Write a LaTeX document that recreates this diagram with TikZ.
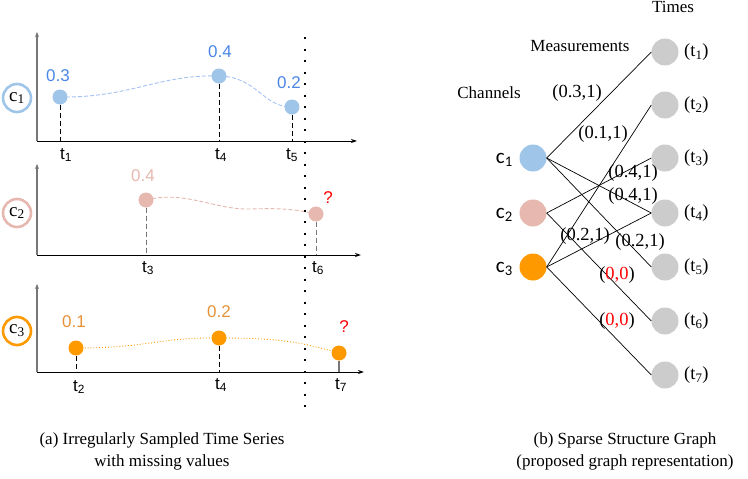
\documentclass[tikz,border=0pt]{standalone}
\usepackage{fontspec}
\setmainfont{Liberation Serif}
\newfontfamily\sansf{Liberation Sans}
\newfontfamily\carl{Carlito}
\usetikzlibrary{arrows.meta}
\definecolor{cblue}{HTML}{9FC5E8}
\definecolor{cbluetxt}{HTML}{4A86E8}
\definecolor{cbluecurve}{HTML}{A4C2F4}
\definecolor{cpink}{HTML}{E6B8AF}
\definecolor{corange}{HTML}{FF9900}
\definecolor{corangetxt}{HTML}{E69138}
\definecolor{cgray}{HTML}{CCCCCC}
\definecolor{axgray}{HTML}{777777}
\newcommand\mysb[1]{\textsubscript{#1}}
\tikzset{
  pt/.style={circle,inner sep=0pt,minimum size=15pt},
  ring/.style={circle,draw,line width=2.6pt,inner sep=0pt,minimum size=28pt,font=\fontsize{19}{19}\selectfont},
  val/.style={font=\sansf\fontsize{17}{17}\selectfont},
  tlab/.style={font=\sansf\fontsize{17}{17}\selectfont,inner sep=1pt},
  yax/.style={draw=axgray,line width=1.2pt,-{Stealth[length=5pt,width=4pt]}},
  xax/.style={draw=black,line width=1pt,-{Stealth[length=6pt,width=4pt]}},
  drop/.style={dashed,line width=1pt,dash pattern=on 5pt off 3pt},
  gnode/.style={circle,inner sep=0pt,minimum size=27pt},
  glab/.style={font=\fontsize{18.5}{18.5}\selectfont,inner sep=0pt},
  hdr/.style={font=\fontsize{17}{17}\selectfont,inner sep=0pt},
  clab/.style={font=\carl\fontsize{21}{21}\selectfont,anchor=east,inner sep=0pt},
  gedge/.style={draw=black,line width=0.7pt},
  captext/.style={font=\fontsize{17}{22}\selectfont,align=center}
}
\begin{document}
\begin{tikzpicture}[x=1pt,y=-1pt]
\useasboundingbox (0,0) rectangle (748,479);
% ---------- panel 1 ----------
\coordinate (o1) at (37,141);
\coordinate (ya1) at (37,32);
\coordinate (xa1) at (357,141);
\draw[yax] (o1) -- (ya1);
\draw[xax] (o1) -- (xa1);
\coordinate (p11) at (60,97);
\coordinate (p12) at (219,76);
\coordinate (p13) at (292,107);
\draw[cbluecurve,line width=0.9pt,dash pattern=on 4pt off 2pt]
  (p11) .. controls (130,98) and (160,74) .. (p12)
        .. controls (258,77) and (262,107) .. (p13);
\node[pt,fill=cblue] (a1) at (p11) {};
\node[pt,fill=cblue] (a2) at (p12) {};
\node[pt,fill=cblue] (a3) at (p13) {};
\coordinate (b1) at (60,141);
\coordinate (b2) at (219,141);
\coordinate (b3) at (292,141);
\draw[drop] (a1.south) -- (b1);
\draw[drop] (a2.south) -- (b2);
\draw[drop] (a3.south) -- (b3);
\node[val,text=cbluetxt] (v11) at (58,76) {0.3};
\node[val,text=cbluetxt] (v12) at (220,52) {0.4};
\node[val,text=cbluetxt] (v13) at (289,83) {0.2};
\node[tlab,anchor=north] (t11) at (66,147) {t\mysb{1}};
\node[tlab,anchor=north] (t12) at (221,147) {t\mysb{4}};
\node[tlab,anchor=north] (t13) at (292,147) {t\mysb{5}};
\node[ring,draw=cblue] (r1) at (17,98) {c\mysb{1}};
% ---------- panel 2 ----------
\coordinate (o2) at (37,255);
\coordinate (ya2) at (37,164);
\coordinate (xa2) at (361,255);
\draw[yax] (o2) -- (ya2);
\draw[xax] (o2) -- (xa2);
\coordinate (p21) at (146,200);
\coordinate (p22) at (316,214);
\draw[cpink,line width=0.9pt,dash pattern=on 4pt off 2pt]
  (p21) .. controls (185,190) and (215,210) .. (250,209)
        .. controls (280,208) and (295,209) .. (p22);
\node[pt,fill=cpink] (a4) at (p21) {};
\node[pt,fill=cpink] (a5) at (p22) {};
\coordinate (b4) at (146,255);
\coordinate (b5) at (316,255);
\draw[drop,axgray] (a4.south) -- (b4);
\draw[drop,axgray] (a5.south) -- (b5);
\node[val,text=cpink] (v21) at (143,176) {0.4};
\node[val,text=red] (v22) at (328,198) {?};
\node[tlab,anchor=north] (t21) at (148,260) {t\mysb{3}};
\node[tlab,anchor=north] (t22) at (318,260) {t\mysb{6}};
\node[ring,draw=cpink] (r2) at (17,213) {c\mysb{2}};
% ---------- panel 3 ----------
\coordinate (o3) at (37,372);
\coordinate (ya3) at (37,284);
\coordinate (xa3) at (364,372);
\draw[yax] (o3) -- (ya3);
\draw[xax] (o3) -- (xa3);
\coordinate (p31) at (76,348);
\coordinate (p32) at (219,338);
\coordinate (p33) at (339,353);
\draw[corange,line width=0.9pt,dotted]
  (p31) .. controls (150,348) and (160,337) .. (p32)
        .. controls (280,338) and (300,342) .. (p33);
\node[pt,fill=corange] (a6) at (p31) {};
\node[pt,fill=corange] (a7) at (p32) {};
\node[pt,fill=corange] (a8) at (p33) {};
\coordinate (b6) at (76,372);
\coordinate (b7) at (219,372);
\coordinate (b8) at (339,372);
\draw[drop] (a6.south) -- (b6);
\draw[drop] (a7.south) -- (b7);
\draw[axgray,line width=1.2pt] (a8.south) -- (b8);
\node[val,text=corangetxt] (v31) at (74,322) {0.1};
\node[val,text=corangetxt] (v32) at (219,312) {0.2};
\node[val,text=red] (v33) at (344,327) {?};
\node[tlab,anchor=north] (t31) at (79,379) {t\mysb{2}};
\node[tlab,anchor=north] (t32) at (221,377) {t\mysb{4}};
\node[tlab,anchor=north] (t33) at (341,377) {t\mysb{7}};
\node[ring,draw=corange] (r3) at (17,331) {c\mysb{3}};
% dotted separator
\coordinate (d1) at (305,37);
\coordinate (d2) at (305,412);
\draw[line width=2.2pt,dash pattern=on 2.2pt off 9.3pt] (d1) -- (d2);
% ---------- graph ----------
\node[gnode,fill=cblue] (c1) at (533,158) {};
\node[gnode,fill=cpink] (c2) at (533,213) {};
\node[gnode,fill=corange] (c3) at (533,267) {};
\foreach \i/\y in {1/52,2/105,3/158,4/213,5/267,6/321,7/375}{
  \node[gnode,fill=cgray] (t\i) at (665,\y) {};
  \node[glab,anchor=west] (tl\i) at (684,\y) {(t\mysb{\i})};
}
\node[clab] (cl1) at (513,160) {c\mysb{1}};
\node[clab] (cl2) at (513,215) {c\mysb{2}};
\node[clab] (cl3) at (513,269) {c\mysb{3}};
\draw[gedge] (c1.east) -- (t1.west);
\draw[gedge] (c1.east) -- (t4.west);
\draw[gedge] (c1.east) -- (t5.west);
\draw[gedge] (c2.east) -- (t3.west);
\draw[gedge] (c2.east) -- (t6.west);
\draw[gedge] (c3.east) -- (t2.west);
\draw[gedge] (c3.east) -- (t4.west);
\draw[gedge] (c3.east) -- (t7.west);
\node[glab] (e1) at (577,93) {(0.3,1)};
\node[glab] (e2) at (603,134) {(0.1,1)};
\node[glab] (e3) at (633,173) {(0.4,1)};
\node[glab] (e4) at (633,196) {(0.4,1)};
\node[glab] (e5) at (585,236) {(0.2,1)};
\node[glab] (e6) at (640,242) {(0.2,1)};
\node[glab] (e7) at (617,275) {(\textcolor{red}{0,0})};
\node[glab] (e8) at (617,321) {(\textcolor{red}{0,0})};
\node[hdr] (h1) at (673,7) {Times};
\node[hdr] (h2) at (580,46) {Measurements};
\node[hdr] (h3) at (489,93) {Channels};
% captions
\node[captext] (capa) at (162,451) {(a) Irregularly Sampled Time Series\\with missing values};
\node[captext] (capb) at (625,451) {(b) Sparse Structure Graph\\(proposed graph representation)};
\end{tikzpicture}
\end{document}
